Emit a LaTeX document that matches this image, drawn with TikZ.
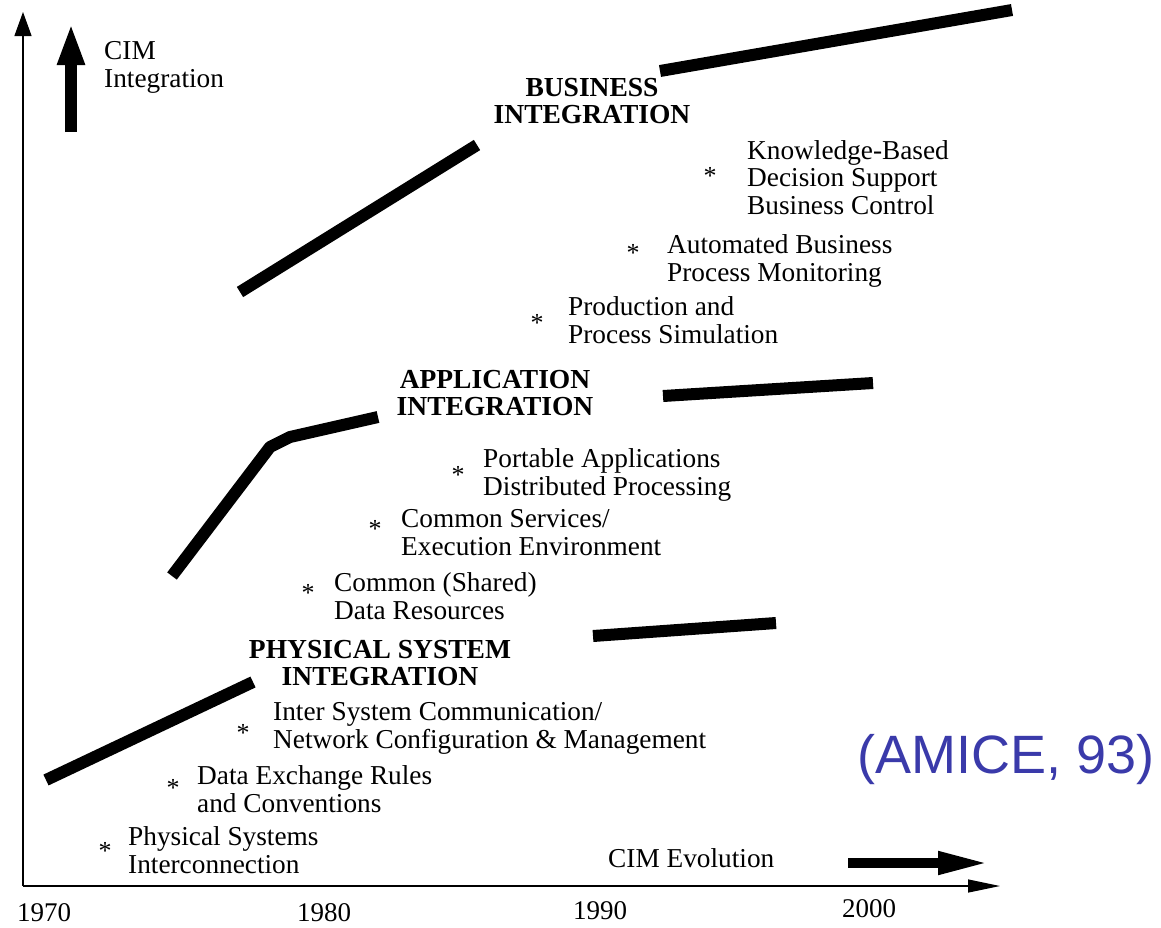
\documentclass[tikz,border=0pt]{standalone}
\usepackage{fontspec}
\setmainfont{Liberation Serif}
\newfontfamily\amicefont{Liberation Sans}
\usetikzlibrary{arrows.meta}
\definecolor{citeblue}{RGB}{58,58,170}
\begin{document}
\begin{tikzpicture}[x=1pt,y=-1pt,
  band/.style={line width=12pt,line cap=butt,line join=miter},
  axisline/.style={line width=1.3pt},
  item/.style={font=\fontsize{27.3}{27.5}\selectfont,align=left,inner sep=0pt,anchor=base west},
  stage/.style={font=\bfseries\fontsize{27.5}{27}\selectfont,align=center,inner sep=0pt,anchor=base},
  star/.style={font=\fontsize{26}{26}\selectfont,inner sep=0pt,anchor=base,yshift=-11pt},
  year/.style={font=\fontsize{27}{27}\selectfont,inner sep=0pt,anchor=base}]
\useasboundingbox (0,0) rectangle (1161,927);

% axes
\coordinate (O) at (23,886);
\coordinate (ytip) at (23,12);
\coordinate (xtip) at (1000,886);
\draw[axisline,-{Triangle[length=24pt,width=17pt]}] (O) -- (ytip);
\draw[axisline,-{Triangle[length=32pt,width=13pt]}] (O) -- (xtip);

% thick direction arrows
\coordinate (intfoot) at (71,132);
\coordinate (inttip) at (71,23);
\draw[line width=12pt,-{Triangle[length=42pt,width=25pt]}] (intfoot) -- (inttip);
\coordinate (evofoot) at (848,863);
\coordinate (evotip) at (990,863);
\draw[line width=10pt,-{Triangle[length=52pt,width=21pt]}] (evofoot) -- (evotip);

% multi-line texts are placed by the baseline of their last line
\node[item] (cimint) at (104,87) {CIM\\Integration};
\node[item] (cimevo) at (608,867) {CIM Evolution};

% years
\node[year] (y1970) at (44,921) {1970};
\node[year] (y1980) at (324,921) {1980};
\node[year] (y1990) at (600,919) {1990};
\node[year] (y2000) at (869,917) {2000};

% stage bands
\coordinate (b1s) at (240,292); \coordinate (b1e) at (477,145);
\coordinate (b2s) at (660,71);  \coordinate (b2e) at (1012,10);
\draw[band] (b1s) -- (b1e);
\draw[band] (b2s) -- (b2e);

\coordinate (a1s) at (172,576); \coordinate (a1k) at (270,447);
\coordinate (a1m) at (290,437); \coordinate (a1e) at (378,417);
\coordinate (a2s) at (663,396); \coordinate (a2e) at (873,383);
\draw[band,line join=round] (a1s) -- (a1k) -- (a1m) -- (a1e);
\draw[band] (a2s) -- (a2e);

\coordinate (p1s) at (46,780);  \coordinate (p1e) at (253,682);
\coordinate (p2s) at (593,636); \coordinate (p2e) at (776,623);
\draw[band] (p1s) -- (p1e);
\draw[band] (p2s) -- (p2e);

% stage titles
\node[stage] (bus) at (592,123) {BUSINESS\\INTEGRATION};
\node[stage] (app) at (495,415) {APPLICATION\\INTEGRATION};
\node[stage] (phy) at (380,685) {PHYSICAL SYSTEM\\INTEGRATION};

% business integration items
\node[star] (s1) at (710,173) {*};
\node[item] (kb) at (747,214) {Knowledge-Based\\Decision Support\\Business Control};
\node[star] (s2) at (633,250) {*};
\node[item] (abp) at (667,281) {Automated Business\\Process Monitoring};
\node[star] (s3) at (537,320) {*};
\node[item] (pps) at (568,343) {Production and\\Process Simulation};

% application integration items
\node[star] (s4) at (458,472) {*};
\node[item] (pa) at (483,495) {Portable Applications\\Distributed Processing};
\node[star] (s5) at (375,526) {*};
\node[item] (cs) at (401,555) {Common Services/\\Execution Environment};
\node[star] (s6) at (308,590) {*};
\node[item] (cd) at (334,619) {Common (Shared)\\Data Resources};

% physical system integration items
\node[star] (s7) at (243,730) {*};
\node[item] (isc) at (273,748) {Inter System Communication/\\Network Configuration \& Management};
\node[star] (s8) at (173,785) {*};
\node[item] (der) at (197,812) {Data Exchange Rules\\and Conventions};
\node[star] (s9) at (105,848) {*};
\node[item] (psi) at (128,873) {Physical Systems\\Interconnection};

% reference
\node[font=\amicefont\fontsize{54}{54}\selectfont,text=citeblue,inner sep=0pt,anchor=base west] (amice) at (857,773) {(AMICE, 93)};
\end{tikzpicture}
\end{document}
